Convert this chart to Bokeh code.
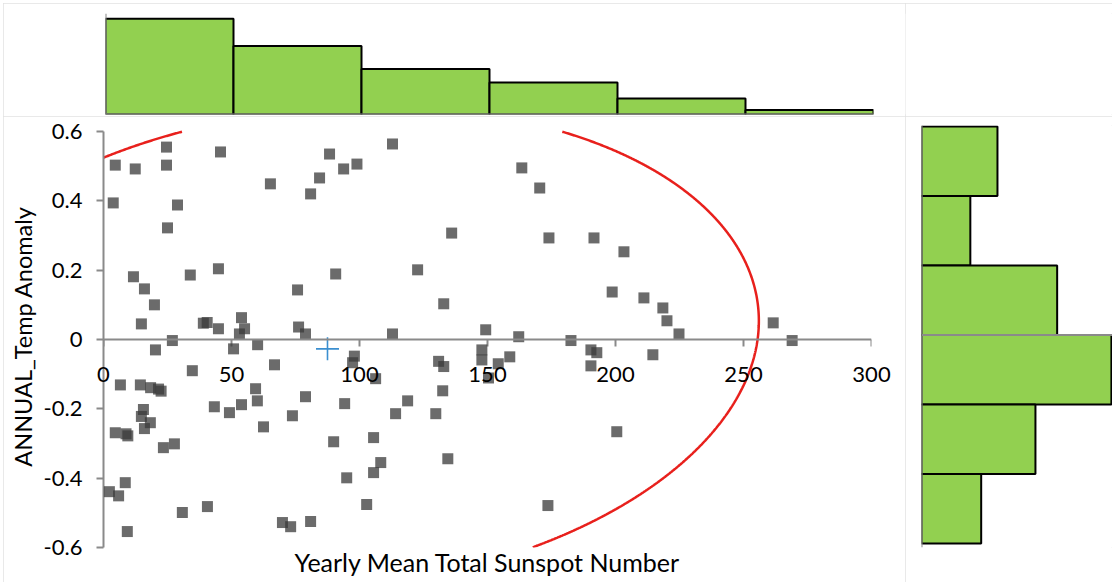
import numpy as np
from bokeh.plotting import figure
from bokeh.layouts import row, column
from bokeh.models import Span, FixedTicker, LinearAxis
from bokeh.core.properties import value
from bokeh.embed import file_html
from bokeh.resources import INLINE

# ---------------- data ----------------
sunspot = [24.6, 45.7, 4.6, 12.4, 24.6, 88.3, 93.8, 99.0, 84.4, 80.9,
           65.2, 3.8, 28.9, 25.0, 11.7, 33.9, 44.9, 90.7, 16.0, 19.9,
           75.8, 14.8, 39.0, 40.5, 44.9, 53.9, 55.1, 53.1, 76.2, 78.9,
           26.9, 20.3, 60.2, 50.8,
           112.9, 163.4, 170.4, 136.0, 174.0, 191.6, 122.7, 132.9, 198.7, 112.9,
           149.3, 162.2, 182.6,
           203.3, 211.1, 218.5, 220.1, 224.8, 261.6, 269.0,
           34.7, 66.8, 98.0, 97.3, 106.3, 6.6, 14.4, 18.4, 21.5, 22.5,
           59.4, 60.1, 78.9, 43.3, 53.9, 49.2, 94.2, 73.8, 114.1, 15.6,
           14.8, 18.3, 16.0, 4.6, 8.8, 9.5, 62.5, 23.4, 27.7, 89.9,
           105.5, 108.3, 105.5, 95.0, 8.5, 2.3, 5.9, 30.8, 40.6, 102.8,
           69.9, 73.1, 80.9, 9.3,
           147.8, 147.8, 150.4, 154.2, 158.7, 130.9, 132.9, 132.5, 118.8, 129.8,
           134.5, 190.4, 192.7, 190.4, 214.6, 200.5, 173.6]
temp_anomaly = [0.555, 0.541, 0.503, 0.492, 0.503, 0.535, 0.492, 0.506, 0.466, 0.420,
                0.449, 0.394, 0.388, 0.322, 0.181, 0.186, 0.204, 0.189, 0.146, 0.100,
                0.143, 0.045, 0.047, 0.049, 0.031, 0.063, 0.031, 0.016, 0.036, 0.016,
                -0.003, -0.030, -0.015, -0.027,
                0.564, 0.495, 0.437, 0.307, 0.293, 0.293, 0.201, 0.103, 0.137, 0.016,
                0.028, 0.008, -0.003,
                0.253, 0.120, 0.091, 0.054, 0.016, 0.048, -0.003,
                -0.090, -0.073, -0.048, -0.067, -0.113, -0.131, -0.131, -0.139, -0.143, -0.149,
                -0.142, -0.177, -0.165, -0.194, -0.188, -0.211, -0.185, -0.220, -0.214, -0.202,
                -0.222, -0.240, -0.257, -0.269, -0.272, -0.278, -0.252, -0.312, -0.301, -0.295,
                -0.283, -0.355, -0.384, -0.399, -0.413, -0.439, -0.451, -0.499, -0.482, -0.476,
                -0.528, -0.540, -0.525, -0.554,
                -0.030, -0.059, -0.111, -0.070, -0.050, -0.063, -0.078, -0.148, -0.177, -0.214,
                -0.344, -0.030, -0.038, -0.076, -0.044, -0.266, -0.479]

x_bin_edges = [0, 50, 100, 150, 200, 250, 300]
x_bin_counts = [42, 30, 20, 14, 7, 2]
y_bin_edges = [0.6, 0.4, 0.2, 0.0, -0.2, -0.4, -0.6]
y_bin_counts = [14, 9, 25, 35, 21, 11]

x_ticks = [0, 50, 100, 150, 200, 250, 300]
x_tick_labels = ["0", "50", "100", "150", "200", "250", "300"]
y_ticks = [-0.6, -0.4, -0.2, 0, 0.2, 0.4, 0.6]
y_tick_labels = ["-0.6", "-0.4", "-0.2", "0", "0.2", "0.4", "0.6"]

x_title = "Yearly Mean Total Sunspot Number"
y_title = "ANNUAL_Temp Anomaly"

# mean point and confidence ellipse (centre, semi-axes, correlation)
mean_x, mean_y = 87.5, -0.027
ell_sx, ell_sy, ell_r = 168.5, 0.699, 0.1155

# ---------------- styling ----------------
FONT = "Lato"
GRAY = "#8a8a8a"
GREEN = "#92D050"
BORDER = {"outline": "1px solid #e2e2e2", "outline-offset": "-1px"}

assert len(sunspot) == len(temp_anomaly)


def base(width, height, xr, yr, l, r, t, b):
    f = figure(width=width, height=height, x_range=xr, y_range=yr, title=None,
               x_axis_type=None, y_axis_type=None, toolbar_location=None,
               output_backend="svg", min_border_left=l, min_border_right=r,
               min_border_top=t, min_border_bottom=b, styles=BORDER)
    f.outline_line_color = None
    f.background_fill_color = "white"
    f.border_fill_color = "white"
    return f


# ---- top histogram ----
top = base(902, 113, (0, 300), (0, 44.3), 102, 32, 10, 2)
top.quad(left=x_bin_edges[:-1], right=x_bin_edges[1:], bottom=0, top=x_bin_counts,
         fill_color=GREEN, line_color="black", line_width=2)
top.add_layout(Span(location=0, dimension="height", line_color=GRAY, line_width=2))
top.add_layout(Span(location=0, dimension="width", line_color=GRAY, line_width=2))

# ---- empty corner ----
corner = base(207, 113, (0, 1), (0, 1), 0, 0, 0, 0)

# ---- main scatter ----  (frame 125..547; axis drawn only over -0.6..0.6)
Y_TOP = 0.6 + 6 / 346.7
main = base(902, 466, (0, 300), (-0.6, Y_TOP), 100, 34, 9, 35)
yaxis = LinearAxis(ticker=FixedTicker(ticks=y_ticks), axis_label=y_title,
                   bounds=(y_ticks[0], y_ticks[-1]),
                   major_label_overrides=dict(zip(y_ticks, y_tick_labels)))
yaxis.axis_line_color = GRAY
yaxis.axis_line_width = 2
yaxis.major_tick_line_color = GRAY
yaxis.major_tick_line_width = 2
yaxis.major_tick_out = 7
yaxis.major_tick_in = 0
yaxis.minor_tick_line_color = None
yaxis.major_label_text_font = FONT
yaxis.major_label_text_font_size = "22px"
yaxis.major_label_text_color = "black"
yaxis.major_label_standoff = 14
yaxis.axis_label_text_font = FONT
yaxis.axis_label_text_font_size = "23.5px"
yaxis.axis_label_text_font_style = "normal"
yaxis.axis_label_text_color = "black"
yaxis.axis_label_standoff = 4
main.add_layout(yaxis, "left")

# horizontal axis crossing at 0: line, downward ticks, labels
main.add_layout(Span(location=0, dimension="width", line_color=GRAY, line_width=2))
main.ray(x=x_ticks, y=[0] * len(x_ticks), length=7, length_units="screen",
         angle=-np.pi / 2, line_color=GRAY, line_width=2)

t = np.linspace(0, 2 * np.pi, 3000)
ell_x = mean_x + ell_sx * np.cos(t)
ell_y = mean_y + ell_sy * (ell_r * np.cos(t) + np.sqrt(1 - ell_r ** 2) * np.sin(t))
ell_y = np.where((ell_y > y_ticks[-1]) | (ell_y < y_ticks[0]), np.nan, ell_y)
main.line(ell_x, ell_y, line_color="#e8201c", line_width=2.5)  # clipped to frame
r_pts = main.scatter(sunspot, temp_anomaly, marker="square", size=11,
                     fill_color="#3a3a3a", fill_alpha=0.75, line_color=None)
r_mean = main.scatter([mean_x], [mean_y], marker="cross", size=23,
                      line_color="#3b8fd0", line_width=1.6)

r_xt = main.text(x=x_ticks, y=[0] * len(x_ticks), text=x_tick_labels,
                 text_align="center", text_baseline="alphabetic", y_offset=35,
                 text_font=value(FONT), text_font_size="22px", text_color="black")
r_title = main.text(x=[150], y=[-0.6], text=[x_title], text_align="center",
                    text_baseline="alphabetic", y_offset=14,
                    text_font=value(FONT), text_font_size="25px", text_color="black")
for rr in (r_pts, r_mean, r_xt, r_title):
    rr.level = "annotation"

# ---- right histogram ---- (frame aligned with main: 125..547)
right = base(207, 466, (0, 35.2), (-0.6 - 4 / 347.5, 0.6 + 1 / 347.5), 16, 0, 9, 35)
right.quad(left=0, right=y_bin_counts, bottom=y_bin_edges[1:], top=y_bin_edges[:-1],
           fill_color=GREEN, line_color="black", line_width=2)
right.add_layout(Span(location=0, dimension="height", line_color=GRAY, line_width=2))
right.add_layout(Span(location=0, dimension="width", line_color=GRAY, line_width=2))

layout = column(row(top, corner, spacing=0), row(main, right, spacing=0), spacing=0,
                styles={"position": "absolute", "left": "3px", "top": "3px"})

open("out.html", "w").write(file_html(layout, INLINE))
